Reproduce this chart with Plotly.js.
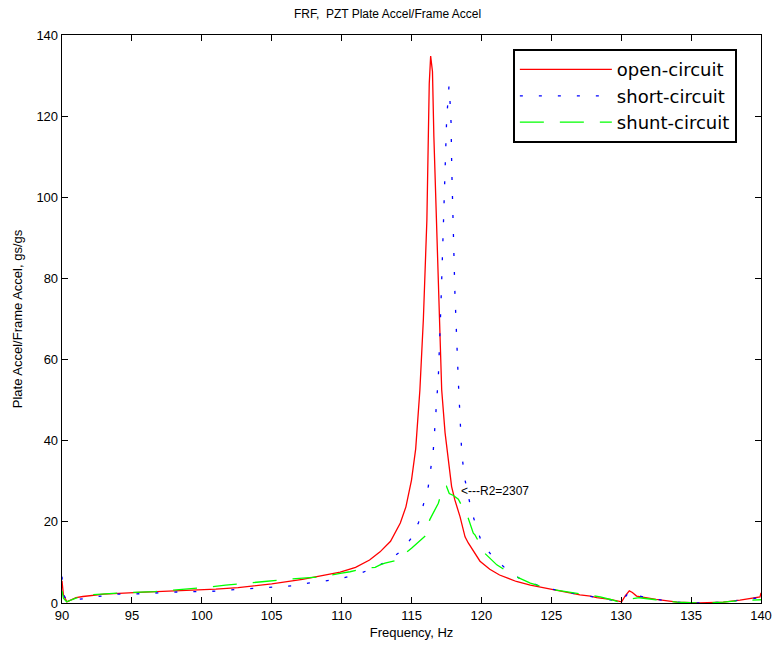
<!DOCTYPE html>
<html>
<head>
<meta charset="utf-8">
<script src="https://cdn.plot.ly/plotly-3.0.1.min.js"></script>
<style>html,body{margin:0;padding:0;background:#fff;}#chart{width:775px;height:649px;}</style>
</head>
<body>
<div id="chart"></div>
<script>
// open-circuit (red, solid)
const openFreq = [90, 90.1, 90.35, 91, 91.5, 93, 95.5, 97, 99, 101, 102.6, 105, 107.2, 108.5, 109.9, 111, 112, 112.75, 113.5, 114.2, 114.6, 115.0, 115.3, 115.6, 115.85, 116.1, 116.27, 116.37, 116.5, 116.6, 116.8, 117.0, 117.16, 117.4, 117.64, 117.87, 118.1, 118.47, 118.83, 119.06, 119.9, 120.6, 121.3, 121.8, 122.5, 123.5, 124.67, 126.1, 127.05, 127.8, 128.25, 129.2, 130.03, 130.3, 130.58, 130.8, 131.1, 132.5, 134, 135.6, 137.3, 138.5, 139.93, 140];
const openVal = [5.5, 2, 0.3, 1.3, 1.6, 2.2, 2.6, 2.8, 3.0, 3.4, 3.8, 4.7, 5.8, 6.6, 7.6, 8.8, 10.6, 12.6, 15.2, 19.7, 23.7, 30.3, 38, 52.5, 70, 94.4, 128, 134.8, 131, 115, 92, 70, 52.5, 42, 34.5, 28.7, 25.4, 21.3, 16.3, 14.8, 10.3, 8.3, 6.9, 6.3, 5.3, 4.4, 3.6, 2.8, 2.0, 1.7, 1.3, 0.9, 0.3, 1.8, 3.0, 2.6, 1.7, 0.9, 0.2, 0, 0.2, 0.7, 1.5, 2.5];

// short-circuit (blue, dotted)
const shortFreq = [90, 90.1, 90.4, 91.2, 92.5, 93.8, 95, 96.4, 97.7, 98.8, 100.1, 101.4, 102.7, 103.9, 105.1, 106.4, 107.6, 108.8, 110.0, 111.2, 112.4, 113.4, 114.37, 114.94, 115.5, 115.85, 116.2, 116.56, 116.8, 116.92, 117.1, 117.28, 117.4, 117.52, 117.63, 117.68, 117.75, 117.83, 117.88, 117.95, 118.1, 118.35, 118.47, 118.6, 118.83, 119.3, 119.7, 120.0, 120.8, 121.7, 122.7, 124.0, 125.1, 126.3, 127.65, 128.5, 129.3, 130.0, 130.3, 130.6, 130.9, 131.3, 132.5, 134, 135.6, 137.3, 138.5, 139.9, 140];
const shortVal = [6.5, 2, 0.5, 0.9, 1.7, 2.2, 2.2, 2.4, 2.5, 2.8, 2.8, 3.0, 3.4, 3.6, 3.9, 4.2, 4.9, 5.4, 6.1, 7.1, 8.8, 10.6, 13.1, 15.8, 19.8, 24.2, 28.7, 37.7, 51.7, 55.8, 73, 92.4, 110.8, 119.9, 124.5, 127.5, 124, 118.4, 107, 95.6, 77, 54.6, 45.9, 36.5, 30.3, 22.5, 18.2, 15.1, 11.4, 8.6, 6.1, 4.4, 3.4, 2.5, 1.7, 1.2, 0.8, 0.3, 1.5, 3.0, 2.5, 1.7, 0.9, 0.2, 0, 0.2, 0.7, 1.3, 1.8];

// shunt-circuit (green, dashed)
const shuntFreq = [90, 90.1, 90.33, 91, 91.9, 93, 94.3, 96.65, 99.0, 100.5, 101.7, 103.3, 104.5, 106.0, 107.1, 108.7, 109.9, 110.6, 111.67, 112.4, 112.75, 113.1, 114.06, 114.4, 115.0, 115.73, 116.08, 116.3, 116.92, 117.28, 117.5, 117.7, 118.0, 118.35, 119.06, 119.42, 119.54, 120.26, 121.1, 122.3, 123.5, 124.8, 126, 127.5, 128.5, 129.3, 130.0, 130.5, 131.3, 132.5, 134, 135.6, 137.3, 138.5, 139.9, 140];
const shuntVal = [3, 1.2, 0.3, 1.2, 2.0, 2.3, 2.5, 2.8, 3.4, 3.9, 4.4, 5.0, 5.3, 5.8, 6.1, 6.5, 7.3, 7.7, 8.5, 8.8, 9.4, 9.8, 10.6, 11.8, 13.5, 15.7, 16.8, 20.5, 24.6, 28.7, 28.8, 27, 26.5, 25.6, 20.9, 17.2, 16.8, 12.2, 9.4, 6.8, 4.9, 3.5, 2.8, 2.1, 1.5, 0.8, 0.1, 0.9, 1.3, 0.8, 0.2, 0, 0.2, 0.6, 0.8, 0.8];

const seriesNames = ['open-circuit', 'short-circuit', 'shunt-circuit'];
const xTicks = [90, 95, 100, 105, 110, 115, 120, 125, 130, 135, 140];
const yTicks = [0, 20, 40, 60, 80, 100, 120, 140];
const noteText = '<---R2=2307';
const noteX = 118.4, noteY = 27.6;

const font = 'Arial, "Liberation Sans", Helvetica, sans-serif';

const traces = [
  {x: openFreq, y: openVal, name: seriesNames[0], mode: 'lines', line: {color: '#ff0000', width: 1.3}},
  {x: shortFreq, y: shortVal, name: seriesNames[1], mode: 'lines', line: {color: '#0000ff', width: 1.3, dash: '3px,16px'}},
  {x: shuntFreq, y: shuntVal, name: seriesNames[2], mode: 'lines', line: {color: '#00ff00', width: 1.3, dash: '24px,16px'}}
];

const layout = {
  width: 775, height: 649,
  margin: {l: 62, r: 14, t: 35, b: 46},
  paper_bgcolor: '#fff', plot_bgcolor: '#fff',
  font: {family: font, size: 13, color: '#000'},
  title: {text: 'FRF,  PZT Plate Accel/Frame Accel', font: {family: font, size: 12, color: '#000'}, x: 0.5, xanchor: 'center', y: 0.978, yanchor: 'middle'},
  xaxis: {
    range: [90, 140], tickvals: xTicks, ticktext: xTicks.map(String),
    ticks: 'inside', ticklen: 6, tickcolor: '#000', tickwidth: 1,
    showline: true, linecolor: '#000', linewidth: 1.3, mirror: 'ticks',
    showgrid: false, zeroline: false,
    tickfont: {size: 13},
    title: {text: 'Frequency, Hz', font: {size: 13}, standoff: 6}
  },
  yaxis: {
    range: [0, 140], tickvals: yTicks, ticktext: yTicks.map(String),
    ticks: 'inside', ticklen: 6, tickcolor: '#000', tickwidth: 1,
    showline: true, linecolor: '#000', linewidth: 1.3, mirror: 'ticks',
    showgrid: false, zeroline: false,
    tickfont: {size: 13},
    title: {text: 'Plate Accel/Frame Accel, gs/gs', font: {size: 13}, standoff: 10}
  },
  showlegend: true,
  legend: {
    x: 0.645, y: 0.975, xanchor: 'left', yanchor: 'top',
    bgcolor: '#fff', bordercolor: '#000', borderwidth: 2,
    font: {family: '"DejaVu Sans", Verdana, sans-serif', size: 18, color: '#000'},
    itemwidth: 92, tracegroupgap: 0
  },
  annotations: [{
    x: noteX, y: noteY, xref: 'x', yref: 'y', text: noteText, showarrow: false,
    xanchor: 'left', yanchor: 'middle', font: {family: font, size: 12, color: '#000'}
  }]
};

Plotly.newPlot('chart', traces, layout, {displayModeBar: false, staticPlot: true});
</script>
</body>
</html>
